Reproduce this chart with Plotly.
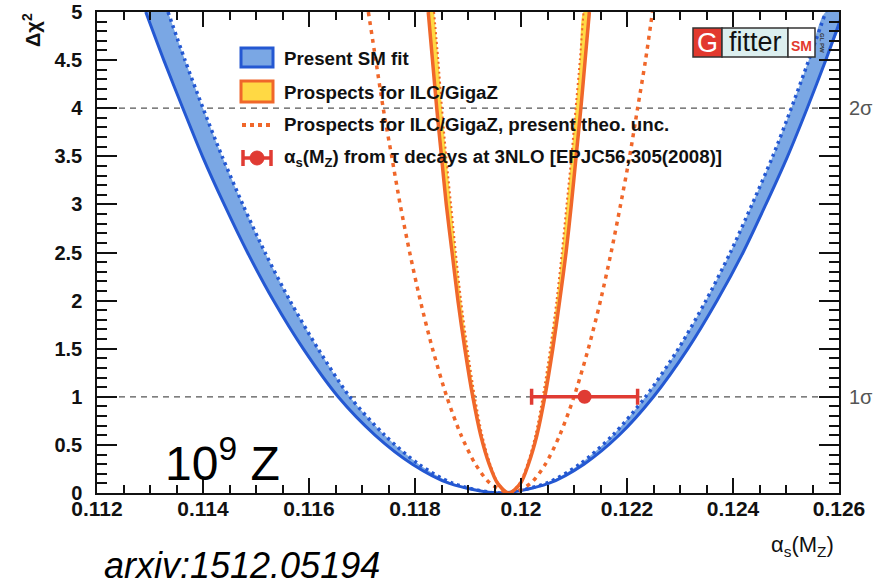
import plotly.graph_objects as go

# ---------------- data ----------------
# delta chi2 levels at which the curve positions were read
dchi2_levels = [5.0, 4.5, 4.0, 3.5, 3.0, 2.5, 2.0, 1.5, 1.0, 0.6, 0.3, 0.1, 0.0]

# Present SM fit: outer (solid) edge of band
sm_outer_left = [0.11292, 0.11326, 0.11362, 0.11399, 0.11440, 0.11484, 0.11533, 0.11589, 0.11655, 0.11725, 0.11795, 0.11865, 0.1196]
sm_outer_right = [0.12052, 0.12119, 0.12185, 0.1225, 0.12315, 0.1237, 0.12419, 0.12462, 0.12503, 0.1254, 0.12575, 0.12608]
# Present SM fit: inner (dotted) edge of band
sm_inner_left = [0.11334, 0.11366, 0.1140, 0.11436, 0.11475, 0.11517, 0.11564, 0.11617, 0.11677, 0.11743, 0.11807, 0.11872, 0.1196]
sm_inner_right = [0.12047, 0.12111, 0.12173, 0.12235, 0.12297, 0.12349, 0.12395, 0.12436, 0.12475, 0.1251, 0.12543, 0.12575]

# Prospects for ILC/GigaZ: outer (solid) edge
ilc_outer_left = [0.11825, 0.11833, 0.11841, 0.11850, 0.11859, 0.11870, 0.11881, 0.11894, 0.11909, 0.11924, 0.11940, 0.11956, 0.11977]
ilc_outer_right = [0.11999, 0.12014, 0.12030, 0.12045, 0.12060, 0.12073, 0.12085, 0.12095, 0.12104, 0.12113, 0.12121, 0.12129]
# Prospects for ILC/GigaZ: inner edge
ilc_inner_left = [0.11836, 0.11844, 0.11851, 0.11859, 0.11868, 0.11877, 0.11887, 0.11899, 0.11913, 0.11927, 0.11942, 0.11957, 0.11977]
ilc_inner_right = [0.11997, 0.12012, 0.12027, 0.12041, 0.12055, 0.12067, 0.12077, 0.12086, 0.12095, 0.12103, 0.12111, 0.12118]

# Prospects for ILC/GigaZ, present theo. unc.
theo_left = [0.11712, 0.11726, 0.1174, 0.11756, 0.11772, 0.11790, 0.11810, 0.11833, 0.1186, 0.11887, 0.11914, 0.11942, 0.1198]
theo_right = [0.12018, 0.12046, 0.12073, 0.1210, 0.12127, 0.12150, 0.12170, 0.12188, 0.12205, 0.1222, 0.12235, 0.12248]

# alpha_s from tau decays
tau_x = [0.1212]
tau_y = [1.0]
tau_err = [0.0010]

# axes
x_tickvals = [0.112, 0.114, 0.116, 0.118, 0.120, 0.122, 0.124, 0.126]
x_ticktext = ["0.112", "0.114", "0.116", "0.118", "0.12", "0.122", "0.124", "0.126"]
y_tickvals = [0, 0.5, 1, 1.5, 2, 2.5, 3, 3.5, 4, 4.5, 5]
y_ticktext = ["0", "0.5", "1", "1.5", "2", "2.5", "3", "3.5", "4", "4.5", "5"]
sigma_levels = [1, 4]
sigma_labels = ["1σ", "2σ"]


def full_curve(left, right):
    xs = list(left) + list(right)
    ys = list(dchi2_levels) + list(reversed(dchi2_levels[:-1]))
    return xs, ys


BLUE_LINE = "#2458d2"
BLUE_FILL = "#7aa7e4"
ORANGE = "#f0672a"
YELLOW = "#ffd944"
RED = "#e03b33"
FONT = "Liberation Sans, Arial, Helvetica, sans-serif"

fig = go.Figure()

# ---- Present SM fit band ----
ox, oy = full_curve(sm_outer_left, sm_outer_right)
ix, iy = full_curve(sm_inner_left, sm_inner_right)
fig.add_trace(go.Scatter(x=ox + ix[::-1], y=oy + iy[::-1], fill="toself", fillcolor=BLUE_FILL,
                         mode="lines", line=dict(width=0, shape="spline", smoothing=0.8),
                         hoverinfo="skip", showlegend=False))
fig.add_trace(go.Scatter(x=ox, y=oy, mode="lines",
                         line=dict(color=BLUE_LINE, width=3, shape="spline", smoothing=0.8),
                         showlegend=False))
fig.add_trace(go.Scatter(x=ix, y=iy, mode="lines",
                         line=dict(color=BLUE_LINE, width=3.5, dash="3px,4px", shape="spline", smoothing=0.8),
                         showlegend=False))

# ---- theo. unc. dotted ----
tx, ty = full_curve(theo_left, theo_right)
fig.add_trace(go.Scatter(x=tx, y=ty, mode="lines",
                         line=dict(color=ORANGE, width=3.5, dash="4px,5px", shape="spline", smoothing=0.8),
                         showlegend=False))

# ---- ILC/GigaZ band ----
gx, gy = full_curve(ilc_outer_left, ilc_outer_right)
hx, hy = full_curve(ilc_inner_left, ilc_inner_right)
fig.add_trace(go.Scatter(x=gx + hx[::-1], y=gy + hy[::-1], fill="toself", fillcolor=YELLOW,
                         mode="lines", line=dict(width=0, shape="spline", smoothing=0.8),
                         hoverinfo="skip", showlegend=False))
fig.add_trace(go.Scatter(x=gx, y=gy, mode="lines",
                         line=dict(color=ORANGE, width=3.5, shape="spline", smoothing=0.8),
                         showlegend=False))
fig.add_trace(go.Scatter(x=hx, y=hy, mode="lines",
                         line=dict(color=ORANGE, width=2, dash="2px,3px", shape="spline", smoothing=0.8),
                         showlegend=False))

# ---- tau measurement ----
fig.add_trace(go.Scatter(x=tau_x, y=tau_y, mode="markers",
                         marker=dict(color=RED, size=14),
                         error_x=dict(type="data", array=tau_err, color=RED, thickness=3.5, width=8),
                         showlegend=False))

# ---------------- layout ----------------
L, R, T, B = 97, 41, 12, 92
PW, PH = 880 - L - R, 585 - T - B


def px(xp):
    return (xp - L) / PW


def py(yp):
    return (585 - B - yp) / PH


shapes = []
for lev in sigma_levels:
    shapes.append(dict(type="line", xref="x", yref="y", x0=x_tickvals[0], x1=x_tickvals[-1], y0=lev, y1=lev,
                       line=dict(color="#555555", width=1.3, dash="6px,5px"), layer="below"))

# legend symbols
shapes.append(dict(type="rect", xref="paper", yref="paper", x0=px(241), x1=px(273), y0=py(67), y1=py(48),
                   fillcolor=BLUE_FILL, line=dict(color=BLUE_LINE, width=3)))
shapes.append(dict(type="rect", xref="paper", yref="paper", x0=px(241), x1=px(273), y0=py(102), y1=py(81),
                   fillcolor=YELLOW, line=dict(color=ORANGE, width=3)))
shapes.append(dict(type="line", xref="paper", yref="paper", x0=px(242), x1=px(273), y0=py(125), y1=py(125),
                   line=dict(color=ORANGE, width=4, dash="4px,4px")))
shapes.append(dict(type="line", xref="paper", yref="paper", x0=px(242), x1=px(272), y0=py(158), y1=py(158),
                   line=dict(color=RED, width=3.5)))
for xx in (243, 271):
    shapes.append(dict(type="line", xref="paper", yref="paper", x0=px(xx), x1=px(xx), y0=py(150), y1=py(166),
                       line=dict(color=RED, width=3.5)))
shapes.append(dict(type="circle", xref="paper", yref="paper", x0=px(250), x1=px(264), y0=py(165), y1=py(151),
                   fillcolor=RED, line=dict(color=RED, width=1)))

# Gfitter logo
shapes.append(dict(type="rect", xref="paper", yref="paper", x0=px(693), x1=px(722), y0=py(57), y1=py(28),
                   fillcolor="#e2392e", line=dict(color="#333333", width=1.5)))
shapes.append(dict(type="rect", xref="paper", yref="paper", x0=px(722), x1=px(788), y0=py(57), y1=py(28),
                   fillcolor="#dcefef", line=dict(color="#333333", width=1.5)))
shapes.append(dict(type="rect", xref="paper", yref="paper", x0=px(788), x1=px(815), y0=py(57), y1=py(28),
                   fillcolor="#ffffff", line=dict(color="#333333", width=1.5)))

annotations = []
leg_font = dict(family=FONT, size=18.7, color="#111111", weight="bold")
leg_texts = ["Present SM fit", "Prospects for ILC/GigaZ", "Prospects for ILC/GigaZ, present theo. unc.",
             "α<sub>s</sub>(M<sub>Z</sub>) from τ decays at 3NLO [EPJC56,305(2008)]"]
leg_y = [58, 92, 125, 158]
for t, yy in zip(leg_texts, leg_y):
    annotations.append(dict(text=t, xref="paper", yref="paper", x=px(282), y=py(yy), xanchor="left",
                            yanchor="middle", showarrow=False, font=leg_font))

# logo text
annotations.append(dict(text="G", xref="paper", yref="paper", x=px(707.5), y=py(43), xanchor="center",
                        yanchor="middle", showarrow=False, font=dict(family=FONT, size=27, color="white")))
annotations.append(dict(text="fitter", xref="paper", yref="paper", x=px(755), y=py(42), xanchor="center",
                        yanchor="middle", showarrow=False, font=dict(family=FONT, size=27, color="#111111")))
annotations.append(dict(text="SM", xref="paper", yref="paper", x=px(801.5), y=py(46), xanchor="center",
                        yanchor="middle", showarrow=False, font=dict(family=FONT, size=14, color="#e2392e", weight="bold")))
annotations.append(dict(text="GL PW", xref="paper", yref="paper", x=px(822), y=py(43), xanchor="center",
                        yanchor="middle", showarrow=False, textangle=90,
                        font=dict(family=FONT, size=6, color="#333333", weight="bold")))

# sigma labels on the right
for lev, lab in zip(sigma_levels, sigma_labels):
    annotations.append(dict(text=lab, xref="paper", yref="y", x=1, y=lev, xanchor="left", yanchor="middle",
                            xshift=8, showarrow=False, font=dict(family=FONT, size=20, color="#555555")))

# axis titles
annotations.append(dict(text="Δχ<sup>2</sup>", xref="paper", yref="paper", x=px(31), y=py(30), xanchor="center",
                        yanchor="middle", textangle=-90, showarrow=False,
                        font=dict(family=FONT, size=20, color="#111111", weight="bold")))
annotations.append(dict(text="α<sub>s</sub>(M<sub>Z</sub>)", xref="paper", yref="paper", x=px(836), y=py(546),
                        xanchor="right", yanchor="middle", showarrow=False,
                        font=dict(family=FONT, size=22, color="#111111")))

# 10^9 Z
annotations.append(dict(text="10<sup>9</sup> Z", xref="paper", yref="paper", x=px(163), y=py(460),
                        xanchor="left", yanchor="middle", showarrow=False,
                        font=dict(family=FONT, size=48, color="#000000")))
# arxiv
annotations.append(dict(text="<i>arxiv:1512.05194</i>", xref="paper", yref="paper", x=px(102), y=py(565),
                        xanchor="left", yanchor="middle", showarrow=False,
                        font=dict(family=FONT, size=36, color="#000000")))

xtick_font = dict(family=FONT, size=21, color="#111111", weight="bold")
ytick_font = dict(family=FONT, size=20, color="#111111", weight="bold")

fig.update_layout(
    width=880, height=585,
    margin=dict(l=L, r=R, t=T, b=B),
    paper_bgcolor="white", plot_bgcolor="white",
    showlegend=False,
    shapes=shapes,
    annotations=annotations,
    xaxis=dict(range=[0.112, 0.126], tickmode="array", tickvals=x_tickvals, ticktext=x_ticktext,
               ticks="inside", ticklen=15, tickwidth=1.5, tickcolor="#111111", automargin=False,
               showline=True, linecolor="#111111", linewidth=1.5, mirror="ticks",
               showgrid=False, zeroline=False, tickfont=xtick_font, ticklabelstandoff=-4,
               minor=dict(tickmode="linear", tick0=0.112, dtick=0.0005, ticks="inside", ticklen=8,
                          tickwidth=1.5, tickcolor="#111111", showgrid=False)),
    yaxis=dict(range=[0, 5], tickmode="array", tickvals=y_tickvals, ticktext=y_ticktext,
               ticks="inside", ticklen=20, tickwidth=1.5, tickcolor="#111111", automargin=False,
               showline=True, linecolor="#111111", linewidth=1.5, mirror="ticks",
               showgrid=False, zeroline=False, tickfont=ytick_font, ticklabelstandoff=9,
               minor=dict(tickmode="linear", tick0=0, dtick=0.1, ticks="inside", ticklen=10,
                          tickwidth=1.5, tickcolor="#111111", showgrid=False)),
)

fig.write_html("out.html")
